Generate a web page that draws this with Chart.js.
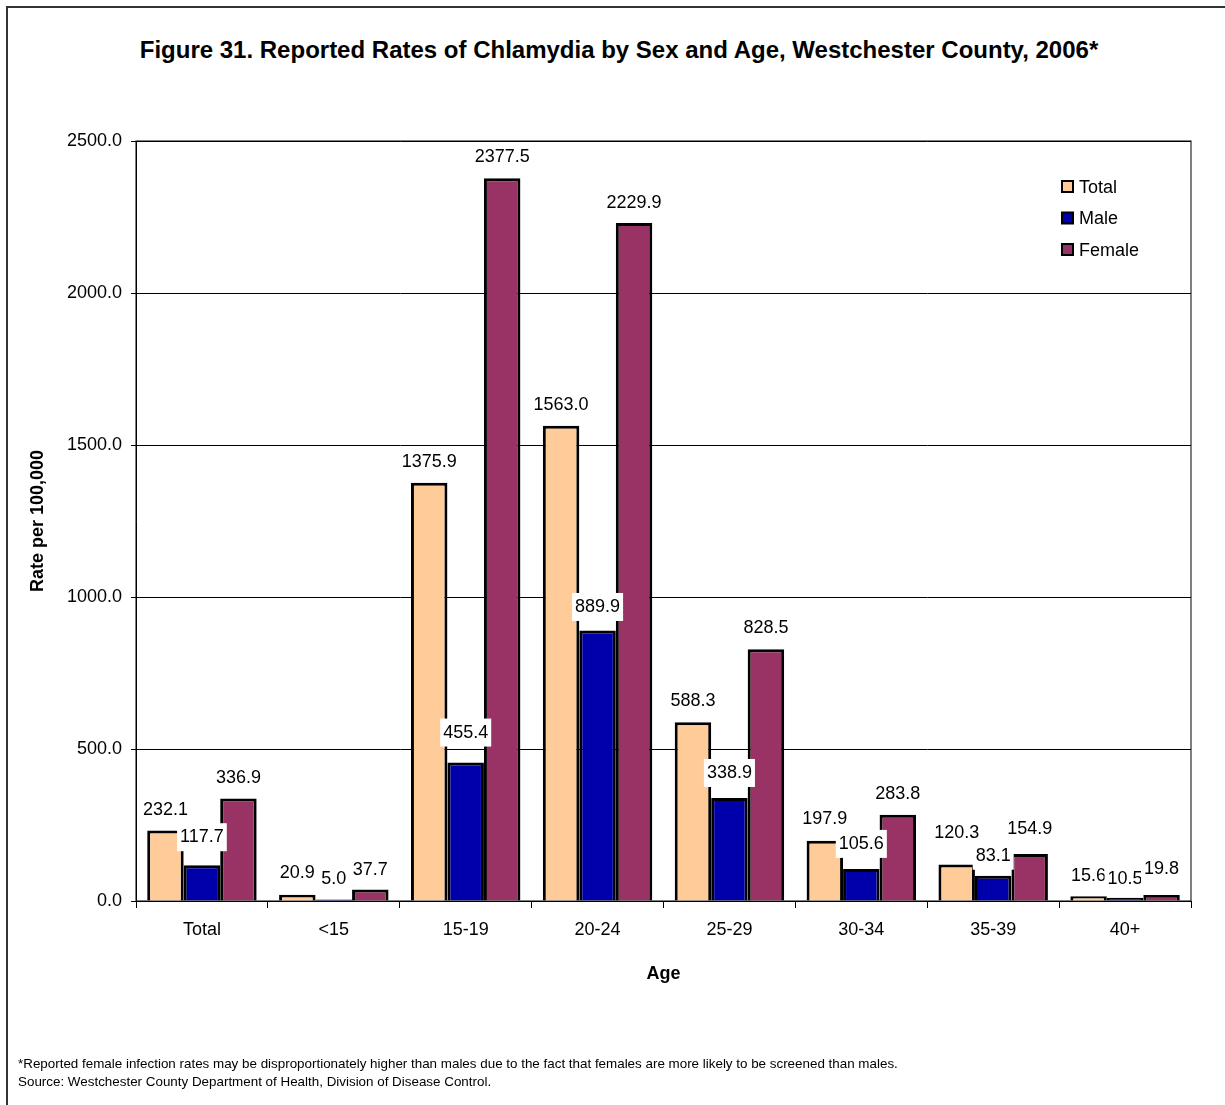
<!DOCTYPE html>
<html>
<head>
<meta charset="utf-8">
<script src="https://cdn.jsdelivr.net/npm/chart.js@4"></script>
<style>
  body { margin: 0; background: #fff; overflow: hidden; font-family: Arial, "Liberation Sans", sans-serif; }
  #frame { position: absolute; left: 6px; top: 6px; width: 1300px; height: 1200px; border: 2px solid #333; }
  #chart { position: absolute; left: 0; top: 0; }
  #title { position: absolute; left: 0; top: 36px; width: 1238px; text-align: center; font-size: 24px; line-height: 28px; font-weight: bold; color: #000; }
  #note { position: absolute; left: 18px; top: 1055px; font-size: 13.4px; line-height: 18px; color: #000; }
</style>
</head>
<body>
<div id="frame"></div>
<div id="title">Figure 31. Reported Rates of Chlamydia by Sex and Age, Westchester County, 2006*</div>
<canvas id="chart" width="1225" height="1105"></canvas>
<div id="note">
  *Reported female infection rates may be disproportionately higher than males due to the fact that females are more likely to be screened than males.<br>
  Source: Westchester County Department of Health, Division of Disease Control.
</div>
<script>
// chart values
const ageGroups = ["Total", "<15", "15-19", "20-24", "25-29", "30-34", "35-39", "40+"];
const totalRates = [232.1, 20.9, 1375.9, 1563.0, 588.3, 197.9, 120.3, 15.6];
const maleRates = [117.7, 5.0, 455.4, 889.9, 338.9, 105.6, 83.1, 10.5];
const femaleRates = [336.9, 37.7, 2377.5, 2229.9, 828.5, 283.8, 154.9, 19.8];
const yMin = 0;
const yMax = 2500;
const yStep = 500;

// how far each value label sits above its bar (px), nudged like the original
const totalLift = [21, 23, 22, 22, 22, 23, 32, 21];
const maleLift = [29, 21.5, 31, 24.5, 26, 26, 21, 20];
const femaleLift = [21.5, 21, 22, 21, 22, 22, 26, 27];

const FONT = "Arial, 'Liberation Sans', sans-serif";

// value labels above each bar, on a white box
const barLabels = {
  id: "barLabels",
  afterDatasetsDraw(chart) {
    const ctx = chart.ctx;
    ctx.save();
    ctx.font = "18px " + FONT;
    ctx.textAlign = "center";
    ctx.textBaseline = "middle";
    chart.data.datasets.forEach((ds, i) => {
      const meta = chart.getDatasetMeta(i);
      meta.data.forEach((bar, j) => {
        const text = ds.data[j].toFixed(1);
        const w = ctx.measureText(text).width + 6;
        const cy = bar.y - ds.labelLift[j];
        ctx.fillStyle = "#fff";
        ctx.fillRect(bar.x - w / 2, cy - 13, w, 28);
        ctx.fillStyle = "#000";
        ctx.fillText(text, bar.x, cy + 1);
      });
    });
    ctx.restore();
  }
};

// legend inside the plot, top right
const boxLegend = {
  id: "boxLegend",
  afterDraw(chart) {
    const ctx = chart.ctx;
    const x0 = 1062, y0 = 187, gap = 31.5;
    ctx.save();
    ctx.font = "18px " + FONT;
    ctx.textBaseline = "middle";
    chart.data.datasets.forEach((ds, i) => {
      const y = y0 + i * gap;
      ctx.fillStyle = ds.backgroundColor;
      ctx.fillRect(x0, y - 6, 11, 11);
      ctx.lineWidth = 2;
      ctx.strokeStyle = "#000";
      ctx.strokeRect(x0, y - 6, 11, 11);
      ctx.fillStyle = "#000";
      ctx.fillText(ds.label, x0 + 17, y + 1);
    });
    ctx.restore();
  }
};

// frame round the plot area
const plotFrame = {
  id: "plotFrame",
  beforeDatasetsDraw(chart) {
    const a = chart.chartArea;
    const ctx = chart.ctx;
    ctx.save();
    ctx.strokeStyle = "#000";
    ctx.lineWidth = 1;
    ctx.strokeRect(a.left, a.top, a.right - a.left, a.bottom - a.top);
    ctx.restore();
  }
};

Chart.defaults.font.family = FONT;
Chart.defaults.color = "#000";

new Chart(document.getElementById("chart"), {
  type: "bar",
  data: {
    labels: ageGroups,
    datasets: [
      { label: "Total", data: totalRates, backgroundColor: "#FFCC99", labelLift: totalLift },
      { label: "Male", data: maleRates, backgroundColor: "#0000AA", labelLift: maleLift },
      { label: "Female", data: femaleRates, backgroundColor: "#993366", labelLift: femaleLift }
    ]
  },
  options: {
    responsive: false,
    animation: false,
    layout: { padding: { left: 0, right: 34, top: 141, bottom: 120 } },
    datasets: {
      bar: {
        borderColor: "#000",
        borderWidth: 3,
        borderSkipped: "bottom",
        barPercentage: 1,
        categoryPercentage: 0.83
      }
    },
    plugins: {
      legend: { display: false },
      tooltip: { enabled: false },
      title: { display: false }
    },
    scales: {
      x: {
        grid: { display: true, drawOnChartArea: false, drawTicks: true, tickLength: 7, color: "#000", offset: true },
        border: { display: true, color: "#000", width: 1 },
        ticks: { font: { size: 18 }, color: "#000", padding: 11, maxRotation: 0 },
        title: { display: true, text: "Age", font: { size: 18, weight: "bold" }, color: "#000", padding: { top: 0, bottom: 0 } },
        afterFit(scale) { scale.height = 84; }
      },
      y: {
        min: yMin,
        max: yMax,
        grid: { color: "#000", lineWidth: 1, drawTicks: true, tickLength: 5, tickColor: "#000" },
        border: { display: true, color: "#000", width: 1 },
        ticks: {
          stepSize: yStep,
          font: { size: 18 },
          color: "#000",
          padding: 9,
          callback: (v) => Number(v).toFixed(1)
        },
        title: { display: true, text: "Rate per 100,000", font: { size: 18, weight: "bold" }, color: "#000", padding: { top: 27, bottom: 0 } },
        afterFit(scale) { scale.width = 136; }
      }
    }
  },
  plugins: [plotFrame, barLabels, boxLegend]
});
</script>
</body>
</html>
